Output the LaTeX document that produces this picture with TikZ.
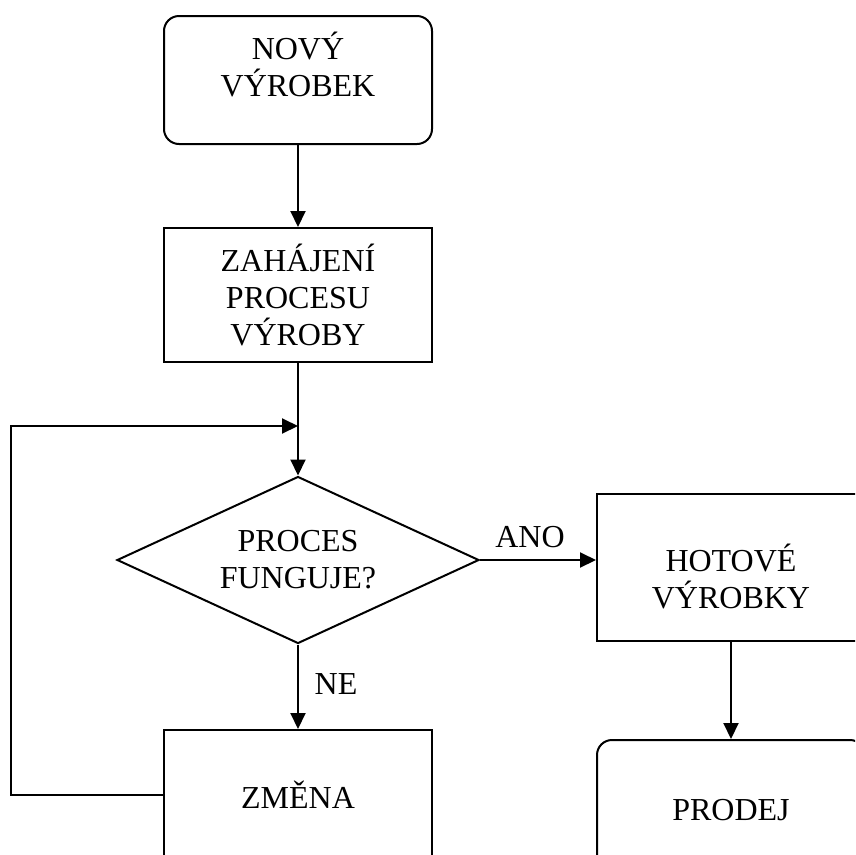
\documentclass[tikz,border=0pt]{standalone}
\usepackage{fontspec}
\setmainfont{Liberation Serif}
\usetikzlibrary{shapes.geometric,arrows.meta}

\tikzset{
  flow/.style={-{Triangle[length=16pt,width=15pt]}},
  txt/.style={align=center,inner sep=0pt,font=\fontsize{32}{37}\selectfont},
  block/.style={draw,rectangle,minimum width=268pt,inner sep=0pt,txt},
  endblock/.style={block,rounded corners=15pt},
  ifblock/.style={draw,diamond,shape aspect=2.17,minimum width=362pt,minimum height=167pt,inner sep=0pt,txt}
}

\begin{document}
\begin{tikzpicture}[x=1pt,y=-1pt,line width=2pt]
\useasboundingbox (0,0) rectangle (855,855);
\clip (0,0) rectangle (855,855);

% nodes
\node [endblock,minimum height=128pt] (new) at (298,80) {};
\node [txt] (newtext) at ([yshift=15pt]new.center) {NOVÝ\\VÝROBEK};
\node [block,minimum height=134pt] (proc) at (298,295) {ZAHÁJENÍ\\PROCESU\\VÝROBY};
\node [ifblock] (test) at (298,560) {PROCES\\FUNGUJE?};
\node [block,minimum height=147pt] (done) at (731,567.5) {};
\node [txt] (donetext) at ([yshift=-9pt]done.center) {HOTOVÉ\\VÝROBKY};
\node [endblock,minimum height=140pt] (sale) at (731,810) {PRODEJ};
\node [block,minimum height=130pt] (change) at (298,795) {ZMĚNA};

\coordinate (join) at (298,426);

% connectors
\draw [flow] (new) -- (proc);
\draw [flow] (proc) -- (test);
\draw [flow] (test.east) -- (test.east -| done.west);
\draw [flow] (done) -- (sale);
\draw [flow] (test) -- (change);
\draw [flow] (change.west) -- ++(-152,0) |- (join);

\node [txt] (yes) at (530,537) {ANO};
\node [txt] (no) at (336,684) {NE};

\end{tikzpicture}
\end{document}
